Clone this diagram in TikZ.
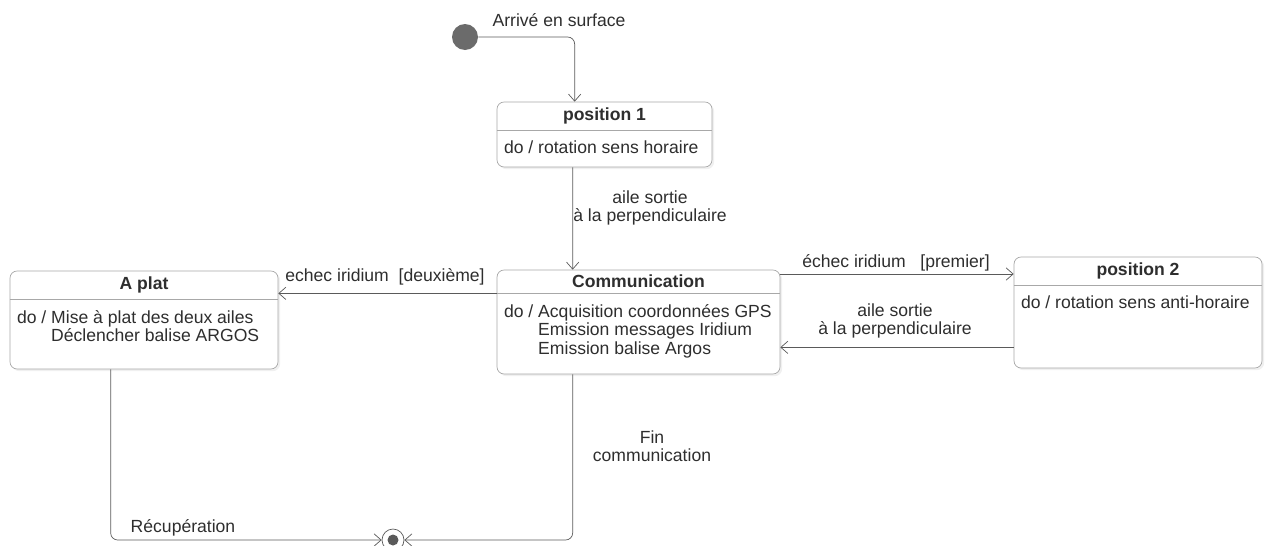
\documentclass[tikz,border=0pt]{standalone}
\usepackage{fontspec}
\setmainfont{Liberation Sans}
\usetikzlibrary{arrows.meta, positioning, shadows}

\definecolor{txtgray}{HTML}{2E2E2E}
\definecolor{linegray}{HTML}{5A5A5A}
\definecolor{boxgray}{HTML}{A8A8A8}

\begin{document}
\begin{tikzpicture}[
    x=0.02cm, y=-0.02cm,
    font=\fontsize{10}{10.5}\selectfont, text=txtgray,
    state/.style={rectangle, rounded corners=4pt, draw=boxgray, fill=white,
      drop shadow={opacity=0.12, shadow xshift=1.2pt, shadow yshift=-1.2pt}},
    title/.style={anchor=north, font=\fontsize{10}{10.5}\selectfont\bfseries, inner sep=0pt},
    body/.style={anchor=north west, align=left, inner xsep=4pt, inner ysep=6pt},
    sep/.style={draw=boxgray},
    trans/.style={draw=linegray, -{Straight Barb[length=4pt, width=7pt]}},
    lbl/.style={align=center, inner sep=0pt}
  ]
    \useasboundingbox (0,0) rectangle (1268,545);

    % initial and final states
    \node[circle, fill=linegray!90, minimum size=0.52cm, inner sep=0pt] (init) at (465,37) {};
    \node[circle, draw=linegray, fill=white, minimum size=0.44cm, inner sep=0pt] (fin) at (393,540) {};
    \node[circle, fill=linegray, minimum size=0.22cm, inner sep=0pt] (findot) at (fin) {};

    % position 1
    \node[state, minimum width=4.3cm, minimum height=1.3cm] (pos1) at (604.5,134.5) {};
    \node[title, minimum height=0.56cm] (pos1t) at (pos1.north) {position 1};
    \draw[sep] (pos1t.south -| pos1.west) -- (pos1t.south -| pos1.east);
    \node[body] (pos1b) at (pos1t.south -| pos1.west) {do / rotation sens horaire};

    % communication
    \node[state, minimum width=5.66cm, minimum height=2.08cm] (comm) at (638.5,322) {};
    \node[title, minimum height=0.46cm] (commt) at (comm.north) {Communication};
    \draw[sep] (commt.south -| comm.west) -- (commt.south -| comm.east);
    \node[body] (commb) at (commt.south -| comm.west) {do / Acquisition coordonnées GPS\\
      \phantom{do / }Emission messages Iridium\\
      \phantom{do / }Emission balise Argos};

    % a plat
    \node[state, minimum width=5.36cm, minimum height=1.96cm] (aplat) at (144,320) {};
    \node[title, minimum height=0.56cm] (aplatt) at (aplat.north) {A plat};
    \draw[sep] (aplatt.south -| aplat.west) -- (aplatt.south -| aplat.east);
    \node[body] (aplatb) at (aplatt.south -| aplat.west) {do / Mise à plat des deux ailes\\
      \phantom{do / }Déclencher balise ARGOS};

    % position 2
    \node[state, minimum width=4.96cm, minimum height=2.22cm] (pos2) at (1138,312.5) {};
    \node[title, minimum height=0.56cm] (pos2t) at (pos2.north) {position 2};
    \draw[sep] (pos2t.south -| pos2.west) -- (pos2t.south -| pos2.east);
    \node[body] (pos2b) at (pos2t.south -| pos2.west) {do / rotation sens anti-horaire};

    % transitions
    \draw[trans, rounded corners=4pt] (init) -| ([xshift=1.56cm]pos1.north west);
    \draw[trans] ([xshift=1.52cm]pos1.south west) -- ([xshift=1.52cm]comm.north west);
    \draw[trans] (commt.south -| comm.west) -- (commt.south -| aplat.east);
    \draw[trans] ([yshift=-0.06cm]pos2t.west -| comm.east) -- ([yshift=-0.06cm]pos2t.west -| pos2.west);
    \coordinate (ret) at ([yshift=0.42cm]pos2.south west);
    \draw[trans] (ret) -- (ret -| comm.east);
    \draw[trans, rounded corners=4pt] ([xshift=2.02cm]aplat.south west) |- (fin.west);
    \draw[trans, rounded corners=4pt] ([xshift=1.52cm]comm.south west) |- (fin.east);

    % labels
    \node[lbl] (larr) at (559,20) {Arrivé en surface};
    \node[lbl] (lsort1) at (650,208) {aile sortie\\à la perpendiculaire};
    \node[lbl] (ldeux) at (385,277) {echec iridium\ \ [deuxième]};
    \node[lbl] (lprem) at (896,263) {échec iridium\ \ \ [premier]};
    \node[lbl] (lsort2) at (895,321) {aile sortie\\à la perpendiculaire};
    \node[lbl] (lfin) at (652,446) {Fin\\communication};
    \node[lbl] (lrec) at (183,528) {Récupération};
  \end{tikzpicture}
\end{document}
